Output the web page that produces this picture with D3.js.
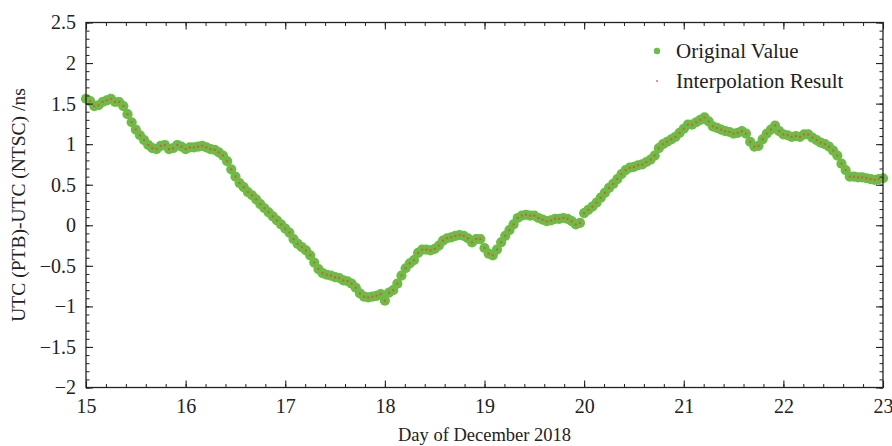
<!DOCTYPE html>
<html><head><meta charset="utf-8">
<script src="https://cdn.jsdelivr.net/npm/d3@7/dist/d3.min.js"></script>
<style>body{margin:0;background:#fff}svg{display:block}text{font-family:"Liberation Serif","Times New Roman",serif;fill:#222}</style>
</head><body>
<svg id="c" width="892" height="446"></svg>
<script>
// Hourly samples from Dec 15 00:00 to Dec 23 00:00 (day = 15 + index/24)
const startDay = 15;
const stepDay = 1 / 24;
const originalValues = [
 1.56,1.53,1.47,1.48,1.52,1.54,1.56,1.52,1.52,1.47,1.37,1.27,1.18,1.11,1.05,0.99,0.95,0.94,0.98,0.99,0.94,0.95,0.99,0.97,
 0.94,0.96,0.96,0.97,0.98,0.96,0.94,0.93,0.90,0.86,0.79,0.69,0.60,0.52,0.47,0.41,0.37,0.32,0.26,0.21,0.16,0.11,0.06,0.01,
 -0.04,-0.09,-0.17,-0.23,-0.27,-0.31,-0.37,-0.46,-0.54,-0.59,-0.61,-0.62,-0.64,-0.65,-0.68,-0.69,-0.72,-0.77,-0.84,-0.88,-0.89,-0.88,-0.87,-0.85,
 -0.93,-0.83,-0.80,-0.72,-0.62,-0.53,-0.47,-0.43,-0.34,-0.30,-0.30,-0.31,-0.29,-0.25,-0.19,-0.16,-0.15,-0.13,-0.12,-0.13,-0.16,-0.21,-0.17,-0.17,
 -0.28,-0.35,-0.37,-0.30,-0.21,-0.13,-0.06,0.01,0.09,0.12,0.13,0.12,0.12,0.09,0.07,0.05,0.06,0.08,0.08,0.09,0.08,0.05,0.01,0.03,
 0.15,0.19,0.23,0.28,0.34,0.40,0.46,0.51,0.57,0.63,0.68,0.71,0.72,0.74,0.75,0.78,0.81,0.86,0.95,1.00,1.03,1.06,1.09,1.14,
 1.19,1.24,1.24,1.27,1.30,1.33,1.28,1.22,1.20,1.18,1.16,1.15,1.13,1.14,1.16,1.13,1.03,0.97,0.98,1.06,1.13,1.18,1.23,1.16,
 1.12,1.11,1.09,1.10,1.09,1.12,1.12,1.08,1.05,1.02,1.00,0.97,0.92,0.86,0.76,0.68,0.60,0.60,0.59,0.59,0.58,0.57,0.56,0.57,
 0.58
];
const interpolationValues = originalValues.slice();
const xTicks = [15,16,17,18,19,20,21,22,23];
const yTicks = [2.5,2,1.5,1,0.5,0,-0.5,-1,-1.5,-2];
const legendLabels = ["Original Value","Interpolation Result"];
const xTitle = "Day of December 2018";
const yTitle = "UTC (PTB)-UTC (NTSC) /ns";

const svg = d3.select("#c");
const L = 86, R = 883, T = 22.5, B = 387.5;
const x = d3.scaleLinear().domain([15,23]).range([L,R]);
const y = d3.scaleLinear().domain([-2,2.5]).range([B,T]);
const green = "#6cbd45", red = "#e5533d";
const fmt = v => String(v).replace("-", "\u2212");

// data
const pts = originalValues.map((v,i)=>({d:startDay+i*stepDay,v}));
const ipts = interpolationValues.map((v,i)=>({d:startDay+i*stepDay,v}));
svg.append("g").selectAll("circle").data(pts).join("circle")
  .attr("cx",p=>x(p.d)).attr("cy",p=>y(p.v)).attr("r",5.1).attr("fill",green);
svg.append("g").selectAll("rect").data(ipts).join("rect")
  .attr("x",p=>x(p.d)-1).attr("y",p=>y(p.v)-1).attr("width",2).attr("height",2).attr("fill",red);

// axes (inward ticks on all sides)
const xMinor = d3.range(15,23.001,0.2);
const yMinor = d3.range(-2,2.5001,0.1);
function axisSet(axisFn, scale, majors, minors, transform, withLabels){
  const gMin = svg.append("g").attr("transform",transform)
    .call(axisFn(scale).tickValues(minors).tickSize(-3.5).tickFormat(""));
  gMin.select(".domain").remove();
  gMin.selectAll("line").attr("stroke","#222").attr("stroke-width",1);
  const g = svg.append("g").attr("transform",transform)
    .call(axisFn(scale).tickValues(majors).tickSize(-7).tickPadding(10).tickFormat(withLabels?fmt:""));
  g.select(".domain").remove();
  g.selectAll("line").attr("stroke","#222").attr("stroke-width",1.1);
  g.selectAll("text").style("font-size","20px").attr("fill","#222");
  return g;
}
const gx = axisSet(d3.axisBottom, x, xTicks, xMinor, `translate(0,${B})`, true);
gx.selectAll("text").attr("dy","0.78em");
axisSet(d3.axisTop, x, xTicks, xMinor, `translate(0,${T})`, false);
const gy = axisSet(d3.axisLeft, y, yTicks, yMinor, `translate(${L},0)`, true);
axisSet(d3.axisRight, y, yTicks, yMinor, `translate(${R},0)`, false);

svg.append("rect").attr("x",L).attr("y",T).attr("width",R-L).attr("height",B-T)
  .attr("fill","none").attr("stroke","#222").attr("stroke-width",1.3);

// titles
svg.append("text").attr("x",(L+R)/2).attr("y",441).attr("text-anchor","middle")
  .style("font-size","18.5px").text(xTitle);
svg.append("text").attr("transform",`translate(25,${(T+B)/2}) rotate(-90)`).attr("text-anchor","middle")
  .style("font-size","19.5px").text(yTitle);

// legend
const lg = svg.append("g");
lg.append("circle").attr("cx",657).attr("cy",51).attr("r",3.2).attr("fill",green);
lg.append("rect").attr("x",656.2).attr("y",80.2).attr("width",1.6).attr("height",1.6).attr("fill",red);
lg.append("text").attr("x",676).attr("y",58).style("font-size","21px").text(legendLabels[0]);
lg.append("text").attr("x",676).attr("y",88).style("font-size","21px").text(legendLabels[1]);
</script>
</body></html>
